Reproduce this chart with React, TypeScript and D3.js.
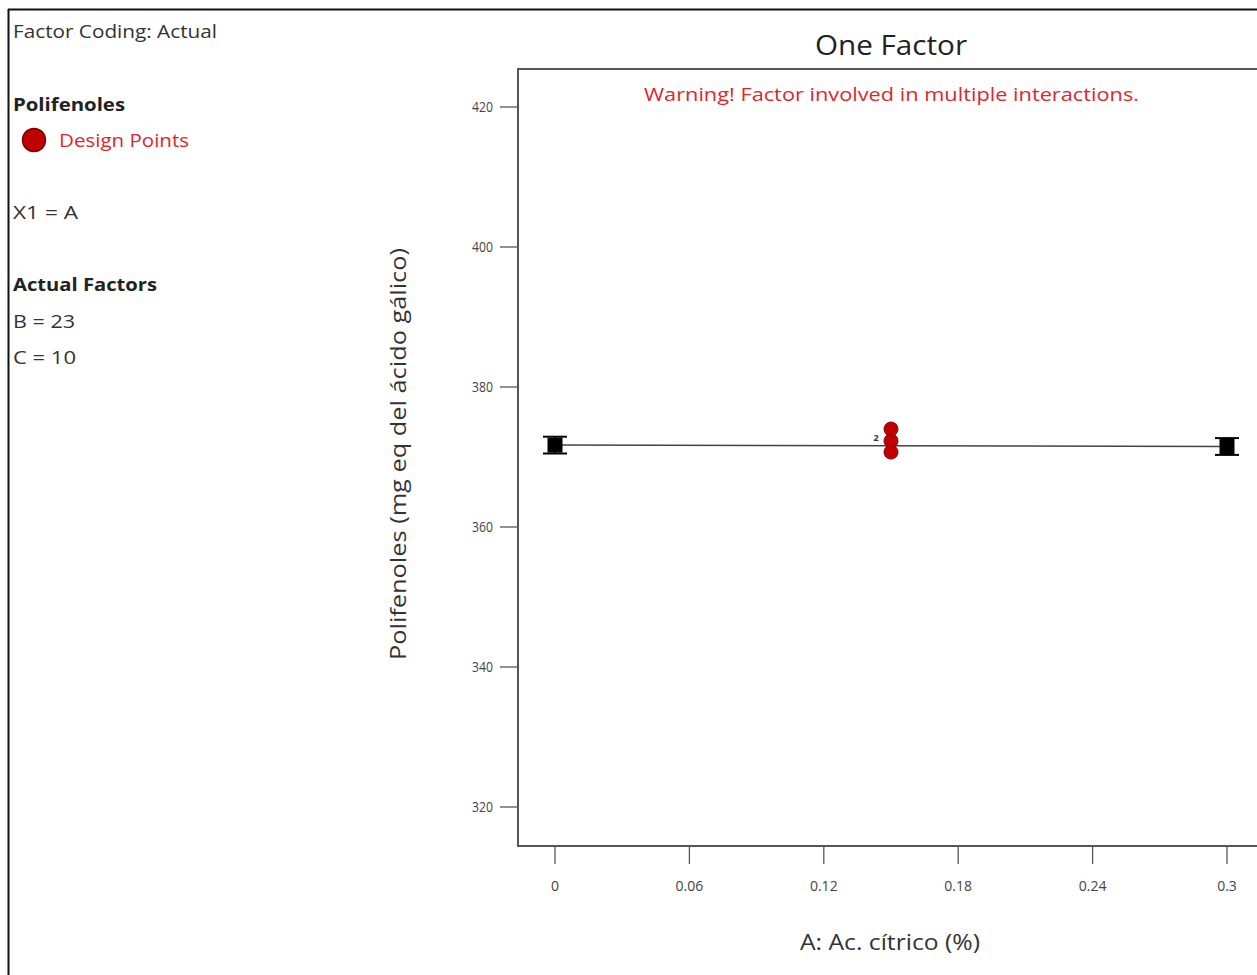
import React from "react";
import * as d3 from "d3";

// Model prediction along factor A (other factors held at B = 23, C = 10)
const predX = [0, 0.3];
const predY = [371.7, 371.5];
// LSD half-width at the prediction endpoints
const predBar = [1.2, 1.2];

// Design points at the centre of A
const designX = [0.15, 0.15, 0.15];
const designY = [374.0, 372.3, 370.7];
const designCountLabel = "2";

const yTicks = [320, 340, 360, 380, 400, 420];
const xTicks = [0, 0.06, 0.12, 0.18, 0.24, 0.3];

const W = 1257;
const H = 975;
const plotLeft = 518;
const plotTop = 69;
const plotBottom = 846;
const plotRight = 1266;

const font = "'Open Sans', 'Noto Sans', sans-serif";

type TProps = React.SVGProps<SVGTextElement> & { len?: number };

// Text fitted to a fixed width
function T({ len, children, ...rest }: TProps) {
  return (
    <text {...rest} textLength={len} lengthAdjust={len ? "spacingAndGlyphs" : undefined}>
      {children}
    </text>
  );
}

export default function App() {
  const x = d3.scaleLinear().domain([0, 0.3]).range([555, 1227]);
  const y = d3.scaleLinear().domain([320, 420]).range([807, 107]);

  const line = d3
    .line<number>()
    .x((_, i) => x(predX[i]))
    .y((d) => y(d));

  const textGrey = "#333";
  const red = "#e0262b";

  return (
    <svg
      width={W}
      height={H}
      style={{ position: "absolute", left: 0, top: 0, background: "#fff" }}
      fontFamily={font}
    >
      {/* outer frame */}
      <line x1={8.5} y1={9} x2={8.5} y2={H} stroke="#111" strokeWidth={2} />
      <line x1={8} y1={9.5} x2={W} y2={9.5} stroke="#111" strokeWidth={2} />

      {/* side legend */}
      <g fill={textGrey} fontSize={18}>
        <T x={13} y={38} len={204}>Factor Coding: Actual</T>
        <T x={13} y={111} len={112} fontWeight="bold" fill="#222">Polifenoles</T>
        <circle cx={34} cy={140} r={11.5} fill="#c00000" stroke="#7a0000" strokeWidth={1.5} />
        <T x={59} y={147} len={130} fill={red}>Design Points</T>
        <T x={13} y={219} len={65}>X1 = A</T>
        <T x={13} y={291} len={144} fontWeight="bold" fill="#222">Actual Factors</T>
        <T x={13} y={328} len={62}>B = 23</T>
        <T x={13} y={364} len={63}>C = 10</T>
      </g>

      {/* title */}
      <T x={815} y={55} len={152} fontSize={27} fill="#222">
        One Factor
      </T>

      {/* plot frame */}
      <rect
        x={plotLeft}
        y={plotTop}
        width={plotRight - plotLeft}
        height={plotBottom - plotTop}
        fill="none"
        stroke="#555"
        strokeWidth={2}
      />
      <T x={644} y={101} len={495} fontSize={19} fill={red}>
        Warning! Factor involved in multiple interactions.
      </T>

      {/* y axis */}
      <g>
        {yTicks.map((t) => (
          <g key={t}>
            <line x1={500} x2={plotLeft} y1={y(t)} y2={y(t)} stroke="#555" strokeWidth={1.3} />
            <T x={472} y={y(t) + 5} len={21} fontSize={14} fill="#444">
              {t}
            </T>
          </g>
        ))}
        <T
          transform={`translate(406, 660) rotate(-90)`}
          x={0}
          y={0}
          len={412}
          fontSize={22}
          fill="#333"
        >
          Polifenoles (mg eq del ácido gálico)
        </T>
      </g>

      {/* x axis */}
      <g>
        {xTicks.map((t) => (
          <g key={t}>
            <line x1={x(t)} x2={x(t)} y1={plotBottom} y2={864} stroke="#555" strokeWidth={1.3} />
            <text x={x(t)} y={891} textAnchor="middle" fontSize={14} fill="#444">
              {d3.format("")(t)}
            </text>
          </g>
        ))}
        <T x={800} y={950} len={180} fontSize={22} fill="#333">
          A: Ac. cítrico (%)
        </T>
      </g>

      {/* prediction line */}
      <path d={line(predY) || ""} fill="none" stroke="#444" strokeWidth={1.5} />

      {/* prediction endpoints with LSD bars */}
      {predX.map((px, i) => {
        const cx = x(px);
        const cy = y(predY[i]);
        const top = y(predY[i] + predBar[i]);
        const bot = y(predY[i] - predBar[i]);
        return (
          <g key={px}>
            <line x1={cx} x2={cx} y1={top} y2={bot} stroke="#000" strokeWidth={2} />
            <line x1={cx - 12} x2={cx + 12} y1={top} y2={top} stroke="#000" strokeWidth={2} />
            <line x1={cx - 12} x2={cx + 12} y1={bot} y2={bot} stroke="#000" strokeWidth={2} />
            <rect x={cx - 7.5} y={cy - 7.5} width={15} height={15} fill="#000" />
          </g>
        );
      })}

      {/* design points */}
      {designX.map((dx, i) => (
        <circle
          key={i}
          cx={x(dx)}
          cy={y(designY[i])}
          r={7}
          fill="#c00000"
          stroke="#8a0000"
          strokeWidth={1}
        />
      ))}
      <text
        x={x(designX[0]) - 15}
        y={y(designY[0]) + 12}
        fontSize={9}
        fontWeight="bold"
        fill="#333"
        textAnchor="middle"
      >
        {designCountLabel}
      </text>
    </svg>
  );
}
